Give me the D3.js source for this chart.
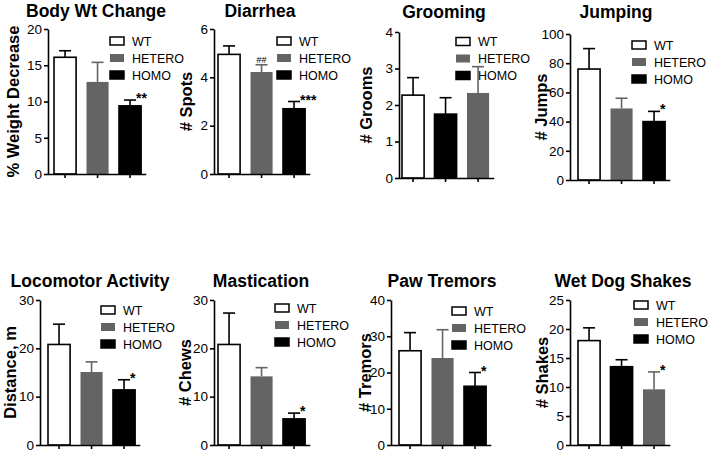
<!DOCTYPE html>
<html>
<head>
<meta charset="utf-8">
<script src="https://cdn.jsdelivr.net/npm/d3@7"></script>
<style>
  body { margin: 0; background: #fff; }
  svg text { font-family: "Liberation Sans", Arial, sans-serif; }
</style>
</head>
<body>
<div id="displaybox"></div>
<script>
// data
const titles = ["Body Wt Change", "Diarrhea", "Grooming", "Jumping",
                "Locomotor Activity", "Mastication", "Paw Tremors", "Wet Dog Shakes"];
const yLabels = ["% Weight Decrease", "# Spots", "# Grooms", "# Jumps",
                 "Distance, m", "# Chews", "# Tremors", "# Shakes"];
const yMax = [20, 6, 4, 100, 30, 30, 40, 25];
const yStep = [5, 2, 1, 20, 10, 10, 10, 5];
const groups = ["WT", "HETERO", "HOMO"];
const means = [
  [16.1, 12.7, 9.4],
  [4.95, 4.22, 2.7],
  [2.27, 1.75, 2.33],
  [76, 49, 40],
  [20.8, 15.1, 11.4],
  [20.8, 14.2, 5.4],
  [26, 24, 16.2],
  [18, 13.5, 9.6]
];
const sems = [
  [0.9, 2.7, 0.8],
  [0.35, 0.3, 0.3],
  [0.48, 0.45, 0.72],
  [14, 7, 7],
  [4.2, 2.1, 2.1],
  [6.5, 1.8, 1.2],
  [5, 7.8, 3.8],
  [2.2, 1.2, 3.0]
];
// which legend group colour each bar is drawn with (as in the original)
const barGroup = [
  [0, 1, 2], [0, 1, 2], [0, 2, 1], [0, 1, 2],
  [0, 1, 2], [0, 1, 2], [0, 1, 2], [0, 2, 1]
];
const marks = [
  ["", "", "**"], ["", "##", "***"], ["", "", ""], ["", "", "*"],
  ["", "", "*"], ["", "", "*"], ["", "", "*"], ["", "", "*"]
];

// layout per panel
const layout = [
  {ax: 48,  top: 29,  bot: 174, bs: 0.8,  lx: 62, ly: 12,  lab: 35, ty: 17,  tx: 48},
  {ax: 214, top: 29,  bot: 174, bs: -1.2, lx: 63, ly: 12,  lab: 28, ty: 17,  tx: 46},
  {ax: 399, top: 32,  bot: 178, bs: -2.2, lx: 57, ly: 9.5, lab: 33, ty: 18,  tx: 45},
  {ax: 570, top: 34,  bot: 180, bs: 2.8,  lx: 62, ly: 11,  lab: 29, ty: 18,  tx: 46},
  {ax: 40,  top: 300, bot: 445, bs: 2.8,  lx: 61, ly: 10,  lab: 30, ty: 287, tx: 50},
  {ax: 214, top: 300, bot: 445, bs: -1.2, lx: 61, ly: 8,   lab: 29, ty: 287, tx: 47},
  {ax: 391, top: 300, bot: 445, bs: 2.8,  lx: 61, ly: 11,  lab: 26, ty: 287, tx: 51},
  {ax: 570, top: 300, bot: 445, bs: 2.8,  lx: 64, ly: 5,   lab: 28, ty: 287, tx: 53}
];

const fills = ["#ffffff", "#646464", "#000000"];
const strokes = ["#000", "none", "#000"];
const errColor = ["#000", "#646464", "#000"];

let svg = d3.select("#displaybox").append("svg")
    .attr("width", 710)
    .attr("height", 453);

titles.forEach((t, i) => drawPanel(i));

function drawPanel(i) {
    let L = layout[i];
    let g = svg.append("g");

    let x = d3.scaleBand()
        .domain([0, 1, 2])
        .range([L.ax + L.bs, L.ax + L.bs + 97.5])
        .paddingInner(0.32)
        .paddingOuter(0.16);
    let y = d3.scaleLinear()
        .domain([0, yMax[i]])
        .range([L.bot, L.top]);

    // title
    g.append("text")
        .attr("x", L.ax + L.tx)
        .attr("y", L.ty)
        .attr("text-anchor", "middle")
        .style("font-size", "17.5px")
        .style("font-weight", "bold")
        .text(titles[i]);

    // y label
    g.append("text")
        .attr("transform", `translate(${L.ax - L.lab}, ${(L.top + L.bot) / 2}) rotate(-90)`)
        .attr("text-anchor", "middle")
        .attr("dy", "0.36em")
        .style("font-size", "16.5px")
        .style("font-weight", "bold")
        .text(yLabels[i]);

    let rows = [0, 1, 2].map(k => ({k: k, c: barGroup[i][k], m: means[i][k], e: sems[i][k]}));

    // error bars (upper only)
    let eb = g.selectAll(".eb").data(rows).enter().append("g");
    eb.append("line")
        .attr("x1", d => x(d.k) + x.bandwidth() / 2)
        .attr("x2", d => x(d.k) + x.bandwidth() / 2)
        .attr("y1", d => y(d.m))
        .attr("y2", d => y(d.m + d.e))
        .attr("stroke", d => errColor[d.c])
        .attr("stroke-width", 1.6);
    eb.append("line")
        .attr("x1", d => x(d.k) + x.bandwidth() / 2 - 6)
        .attr("x2", d => x(d.k) + x.bandwidth() / 2 + 6)
        .attr("y1", d => y(d.m + d.e))
        .attr("y2", d => y(d.m + d.e))
        .attr("stroke", d => errColor[d.c])
        .attr("stroke-width", 1.6);

    // bars
    g.selectAll("rect.bar").data(rows).enter()
        .append("rect")
            .attr("class", "bar")
            .attr("x", d => x(d.k))
            .attr("y", d => y(d.m))
            .attr("width", x.bandwidth())
            .attr("height", d => y(0) - y(d.m))
            .attr("fill", d => fills[d.c])
            .attr("stroke", d => strokes[d.c])
            .attr("stroke-width", 1.6);

    // significance marks
    rows.forEach(d => {
        let s = marks[i][d.k];
        if (!s) return;
        let cx = x(d.k) + x.bandwidth() / 2;
        let cy = y(d.m + d.e);
        if (s[0] === "#") {
            g.append("text")
                .attr("x", cx)
                .attr("y", cy - 2)
                .attr("text-anchor", "middle")
                .style("font-size", "9px")
                .text(s);
        } else {
            g.append("text")
                .attr("x", cx + 6)
                .attr("y", cy + 3)
                .style("font-size", "14px")
                .style("font-weight", "bold")
                .text(s);
        }
    });

    // axes
    let yAxis = g.append("g")
        .attr("transform", `translate(${L.ax}, 0)`)
        .call(d3.axisLeft(y)
            .tickValues(d3.range(0, yMax[i] + 0.001, yStep[i]))
            .tickFormat(d3.format("d"))
            .tickSize(4)
            .tickSizeOuter(0)
            .tickPadding(2));
    let xAxis = g.append("g")
        .attr("transform", `translate(0, ${L.bot})`)
        .call(d3.axisBottom(x).tickSize(4).tickSizeOuter(0).tickFormat(""));
    xAxis.select(".domain").attr("d", `M${L.ax},0.5H${x.range()[1]}`);
    [yAxis, xAxis].forEach(a => {
        a.selectAll("path, line").attr("stroke", "#000").attr("stroke-width", 1.6);
    });
    yAxis.selectAll("text")
        .style("font-size", "13.5px")
        .attr("fill", "#000");

    // legend
    let lg = g.append("g")
        .attr("transform", `translate(${L.ax + L.lx}, ${L.top + L.ly})`);
    groups.forEach((name, k) => {
        lg.append("rect")
            .attr("x", 0)
            .attr("y", k * 17 - 4)
            .attr("width", 14)
            .attr("height", 8)
            .attr("fill", fills[k])
            .attr("stroke", strokes[k])
            .attr("stroke-width", 1.5);
        lg.append("text")
            .attr("x", 22)
            .attr("y", k * 17)
            .attr("dy", "0.36em")
            .style("font-size", "12.5px")
            .text(name);
    });
}
</script>
</body>
</html>
